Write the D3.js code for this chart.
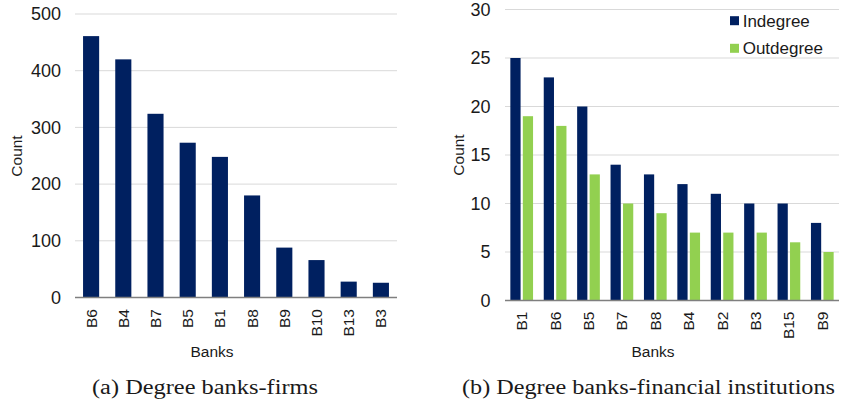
<!DOCTYPE html>
<html>
<head>
<meta charset="utf-8">
<script src="https://cdn.jsdelivr.net/npm/d3@7"></script>
<style>
  body { margin: 0; background: #fff; }
  svg { display: block; }
</style>
</head>
<body>
<svg id="chart" width="843" height="405"></svg>
<script>
  // chart (a): banks-firms
  const banksA = ['B6', 'B4', 'B7', 'B5', 'B1', 'B8', 'B9', 'B10', 'B13', 'B3'];
  const countA = [461, 420, 324, 273, 248, 180, 88, 66, 28, 26];
  const ticksA = [0, 100, 200, 300, 400, 500];

  // chart (b): banks-financial institutions
  const banksB = ['B1', 'B6', 'B5', 'B7', 'B8', 'B4', 'B2', 'B3', 'B15', 'B9'];
  const indegree = [25, 23, 20, 14, 13, 12, 11, 10, 10, 8];
  const outdegree = [19, 18, 13, 10, 9, 7, 7, 7, 6, 5];
  const ticksB = [0, 5, 10, 15, 20, 25, 30];
  const seriesNames = ['Indegree', 'Outdegree'];

  const COLORS = { navy: '#002060', green: '#92D050', grid: '#d9d9d9', axis: '#7f7f7f', text: '#1a1a1a' };
  const sans = '"Liberation Sans", Arial, sans-serif';
  const serif = '"Liberation Serif", "Times New Roman", serif';

  const svg = d3.select('#chart');

  const drawFrame = function (g, y, ticks, opts) {
    g.append('g').selectAll('line').data(ticks.filter(t => t !== 0)).enter().append('line')
      .attr('x1', opts.xLeft).attr('x2', opts.xRight)
      .attr('y1', d => y(d)).attr('y2', d => y(d))
      .attr('stroke', COLORS.grid).attr('stroke-width', 1);

    g.append('g').selectAll('text').data(ticks).enter().append('text')
      .text(d => d)
      .attr('x', opts.labelX).attr('y', d => y(d)).attr('dy', '0.35em')
      .attr('text-anchor', 'end')
      .style('font-family', sans).style('font-size', '18px').attr('fill', COLORS.text);

    g.append('text').text('Count')
      .attr('transform', `translate(${opts.countX},${opts.countY}) rotate(-90)`)
      .attr('text-anchor', 'middle').attr('dy', '0.35em')
      .style('font-family', sans).style('font-size', '15.5px').attr('fill', COLORS.text);

    g.append('text').text('Banks')
      .attr('x', opts.banksX).attr('y', 357)
      .attr('text-anchor', 'middle')
      .style('font-family', sans).style('font-size', '15.5px').attr('fill', COLORS.text);

    g.append('text').text(opts.caption)
      .attr('x', opts.captionX).attr('y', 393.5)
      .attr('textLength', opts.captionW).attr('lengthAdjust', 'spacingAndGlyphs')
      .style('font-family', serif).style('font-size', '20px').attr('fill', COLORS.text);
  };

  const drawXLabels = function (g, x, labels, top) {
    g.append('g').selectAll('text').data(labels).enter().append('text')
      .text(d => d)
      .attr('transform', d => `translate(${x(d) + x.bandwidth() / 2},${top}) rotate(-90)`)
      .attr('text-anchor', 'end').attr('dy', '0.35em')
      .style('font-family', sans).style('font-size', '15.5px').attr('fill', COLORS.text);
  };

  // ---- chart (a)
  const xA = d3.scaleBand().domain(banksA).range([75, 397]).paddingInner(0.5).paddingOuter(0.25);
  const yA = d3.scaleLinear().domain([0, 500]).range([297.5, 14]);
  const gA = svg.append('g');
  drawFrame(gA, yA, ticksA, {
    xLeft: 75, xRight: 397, labelX: 61, countX: 17, countY: 156, banksX: 212,
    captionX: 92, captionW: 226, caption: '(a)  Degree banks-firms'
  });

  gA.append('g').selectAll('rect').data(banksA).enter().append('rect')
    .attr('x', d => xA(d))
    .attr('width', xA.bandwidth())
    .attr('y', (d, i) => yA(countA[i]))
    .attr('height', (d, i) => yA(0) - yA(countA[i]))
    .attr('fill', COLORS.navy);

  gA.append('line').attr('x1', 75).attr('x2', 397).attr('y1', yA(0)).attr('y2', yA(0))
    .attr('stroke', COLORS.axis).attr('stroke-width', 1.5);
  drawXLabels(gA, xA, banksA, 309);

  // ---- chart (b)
  const xB = d3.scaleBand().domain(banksB).range([505, 839]).paddingInner(0.32).paddingOuter(0.16);
  const xSub = d3.scaleBand().domain(seriesNames).range([0, xB.bandwidth()]).paddingInner(0.18);
  const yB = d3.scaleLinear().domain([0, 30]).range([300.5, 9.5]);
  const gB = svg.append('g');
  drawFrame(gB, yB, ticksB, {
    xLeft: 505, xRight: 839, labelX: 490.5, countX: 459, countY: 155, banksX: 653,
    captionX: 462, captionW: 373, caption: '(b)  Degree banks-financial institutions'
  });

  const values = { 'Indegree': indegree, 'Outdegree': outdegree };
  const fills = { 'Indegree': COLORS.navy, 'Outdegree': COLORS.green };

  seriesNames.forEach(function (s) {
    gB.append('g').selectAll('rect').data(banksB).enter().append('rect')
      .attr('x', d => xB(d) + xSub(s))
      .attr('width', xSub.bandwidth())
      .attr('y', (d, i) => yB(values[s][i]))
      .attr('height', (d, i) => yB(0) - yB(values[s][i]))
      .attr('fill', fills[s]);
  });

  gB.append('line').attr('x1', 505).attr('x2', 839).attr('y1', yB(0)).attr('y2', yB(0))
    .attr('stroke', COLORS.axis).attr('stroke-width', 1.5);
  drawXLabels(gB, xB, banksB, 311.5);

  // legend
  const legend = gB.append('g').attr('class', 'legend');
  const legendRows = legend.selectAll('g').data(seriesNames).enter().append('g')
    .attr('transform', (d, i) => `translate(730,${20.7 + i * 27.6})`);
  legendRows.append('rect').attr('x', 0).attr('y', -4.5).attr('width', 9).attr('height', 9)
    .attr('fill', d => fills[d]);
  legendRows.append('text').text(d => d)
    .attr('x', 12.7).attr('dy', '0.35em')
    .style('font-family', sans).style('font-size', '17px').attr('fill', COLORS.text);
</script>
</body>
</html>
